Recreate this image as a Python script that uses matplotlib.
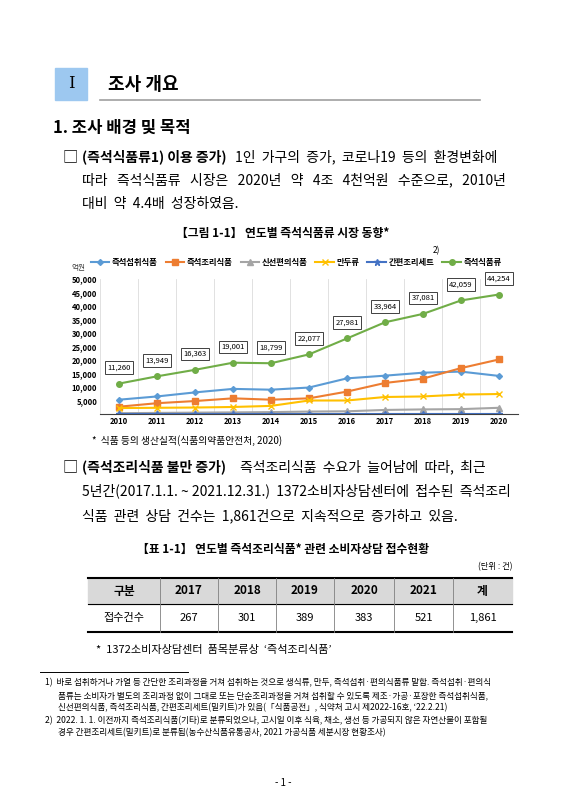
import matplotlib
matplotlib.use("Agg")
import matplotlib.pyplot as plt
from matplotlib.patches import Rectangle
from matplotlib.lines import Line2D

plt.rcParams['font.family'] = ['Noto Sans CJK KR', 'DejaVu Sans']

years = [2010, 2011, 2012, 2013, 2014, 2015, 2016, 2017, 2018, 2019, 2020]
ready_to_eat = [5300, 6500, 8000, 9300, 9000, 9800, 13200, 14200, 15300, 15700, 14100]
ready_to_cook = [2700, 4000, 4800, 5800, 5300, 5800, 8300, 11500, 13100, 17000, 20200]
fresh_conv = [300, 400, 500, 600, 700, 900, 1000, 1500, 1700, 1800, 2300]
dumpling = [2200, 2300, 2400, 2600, 3000, 5000, 5000, 6300, 6500, 7200, 7400]
meal_kit = [100, 100, 100, 100, 100, 100, 100, 100, 100, 100, 100]
total = [11260, 13949, 16363, 19001, 18799, 22077, 27981, 33964, 37081, 42059, 44254]
y_ticks = [5000, 10000, 15000, 20000, 25000, 30000, 35000, 40000, 45000, 50000]

tbl_head = ['구분', '2017', '2018', '2019', '2020', '2021', '계']
tbl_row = ['접수건수', '267', '301', '389', '383', '521', '1,861']

W, H = 566, 800
fig = plt.figure(figsize=(W/100, H/100), dpi=100)
fig.patch.set_facecolor('white')

def T(x, y, s, **kw):
    kw.setdefault('va', 'center')
    fig.text(x/W, 1-y/H, s, **kw)

def R(x0, y0, x1, y1, **kw):
    fig.patches.append(Rectangle((x0/W, 1-y1/H), (x1-x0)/W, (y1-y0)/H,
                                 transform=fig.transFigure, **kw))

def L(x0, y0, x1, y1, **kw):
    fig.lines.append(Line2D([x0/W, x1/W], [1-y0/H, 1-y1/H], transform=fig.transFigure, **kw))

# header
R(55, 68, 87, 100, color='#9dc8f0')
T(71, 84, 'I', ha='center', fontsize=12, family='DejaVu Serif')
T(108, 84, '조사 개요', fontsize=13, weight='bold')
L(100, 100, 480, 100, color='#a0a0a0', lw=1.2)
T(53, 128, '1. 조사 배경 및 목적', fontsize=12, weight='bold')

T(62, 157, '□', fontsize=11)
T(82, 157, '(즉석식품류1) 이용 증가)', fontsize=10, weight='bold')
T(235, 157, '1인  가구의  증가,  코로나19  등의  환경변화에', fontsize=10)
T(82, 180, '따라   즉석식품류   시장은   2020년   약   4조   4천억원   수준으로,   2010년', fontsize=10)
T(82, 204, '대비  약  4.4배  성장하였음.', fontsize=10)

T(283, 233, '【그림 1-1】 연도별 즉석식품류 시장 동향*', ha='center', fontsize=8.5, weight='bold')

# chart
ax = fig.add_axes([100/W, 1-414/H, 418/W, 135/H])
x = list(range(len(years)))
series = [
    (ready_to_eat, '즉석섭취식품', '#5b9bd5', 'D', 3),
    (ready_to_cook, '즉석조리식품', '#ed7d31', 's', 4),
    (fresh_conv, '신선편의식품', '#a5a5a5', '^', 4),
    (dumpling, '만두류', '#ffc000', 'x', 5),
    (meal_kit, '간편조리세트', '#4472c4', '*', 5),
    (total, '즉석식품류', '#70ad47', 'o', 4),
]
for vals, name, c, m, ms in series:
    ax.plot(x, vals, color=c, marker=m, ms=ms, lw=1.5, label=name)
for i, v in enumerate(total):
    ax.annotate(f'{v:,}', (i, v), xytext=(0, 10), textcoords='offset points', ha='center',
                fontsize=5.5, bbox=dict(boxstyle='square,pad=0.3', fc='white', ec='#404040', lw=0.7))
ax.set_xlim(-0.5, len(years)-0.5)
ax.set_ylim(0, 50000)
ax.set_yticks(y_ticks)
ax.set_yticklabels([f'{v:,}' for v in y_ticks], fontsize=5.5, weight='bold')
ax.set_xticks(x)
ax.set_xticklabels([str(y) for y in years], fontsize=5.5, weight='bold')
for b in range(len(years)+1):
    ax.axvline(b-0.5, color='#dcdcdc', lw=0.6, zorder=0)
for s in ['top', 'right', 'left']:
    ax.spines[s].set_visible(False)
ax.spines['bottom'].set_color('#404040')
ax.tick_params(length=0, pad=2)
leg = fig.legend(*ax.get_legend_handles_labels(), loc='center', ncol=6, bbox_to_anchor=(296/W, 1-262/H),
                 frameon=False, fontsize=6, handlelength=2.2, columnspacing=1.0, handletextpad=0.3)
for t in leg.get_texts():
    t.set_weight('bold')
T(433, 251, '2)', fontsize=6)
T(72, 268, '억원', fontsize=5.5, color='#404040')

T(92, 441, '*  식품 등의 생산실적(식품의약품안전처, 2020)', fontsize=7)

T(62, 467, '□', fontsize=11)
T(82, 467, '(즉석조리식품 불만 증가)', fontsize=10, weight='bold')
T(240, 467, '즉석조리식품  수요가  늘어남에  따라,  최근', fontsize=10)
T(82, 491, '5년간(2017.1.1. ~ 2021.12.31.)  1372소비자상담센터에  접수된  즉석조리', fontsize=10)
T(82, 516, '식품  관련  상담  건수는  1,861건으로  지속적으로  증가하고  있음.', fontsize=10)

T(283, 549, '【표 1-1】 연도별 즉석조리식품* 관련 소비자상담 접수현황', ha='center', fontsize=8.5, weight='bold')
T(512, 567, '(단위 : 건)', ha='right', fontsize=6)

cols = [88, 160, 218, 276, 334, 394, 453, 512]
R(88, 578, 512, 604, color='#d9d9d9')
L(88, 578, 512, 578, color='black', lw=1.5)
L(88, 604, 512, 604, color='black', lw=0.8)
L(88, 632, 512, 632, color='black', lw=1.5)
for cx in cols[1:-1]:
    L(cx, 578, cx, 632, color='#808080', lw=0.6)
for i in range(7):
    cx = (cols[i] + cols[i+1]) / 2
    T(cx, 591, tbl_head[i], ha='center', fontsize=8.5, weight='bold')
    T(cx, 618, tbl_row[i], ha='center', fontsize=8)

T(96, 650, '*  1372소비자상담센터  품목분류상  ‘즉석조리식품’', fontsize=8)

L(40, 672, 188, 672, color='black', lw=0.7)
fn = 6.2
T(45, 683, '1)  바로 섭취하거나 가열 등 간단한 조리과정을 거쳐 섭취하는 것으로 생식류, 만두, 즉석섭취·편의식품류 말함. 즉석섭취·편의식', fontsize=fn)
T(58, 696, '품류는 소비자가 별도의 조리과정 없이 그대로 또는 단순조리과정을 거쳐 섭취할 수 있도록 제조·가공·포장한 즉석섭취식품,', fontsize=fn)
T(58, 708, '신선편의식품, 즉석조리식품, 간편조리세트(밀키트)가 있음(「식품공전」, 식약처 고시 제2022-16호, ‘22.2.21)', fontsize=fn)
T(45, 721, '2)  2022. 1. 1. 이전까지 즉석조리식품(기타)로 분류되었으나, 고시일 이후 식육, 채소, 생선 등 가공되지 않은 자연산물이 포함될', fontsize=fn)
T(58, 733, '경우 간편조리세트(밀키트)로 분류됨(농수산식품유통공사, 2021 가공식품 세분시장 현황조사)', fontsize=fn)

T(283, 783, '- 1 -', ha='center', fontsize=7)

fig.savefig('out.png', dpi=100)
